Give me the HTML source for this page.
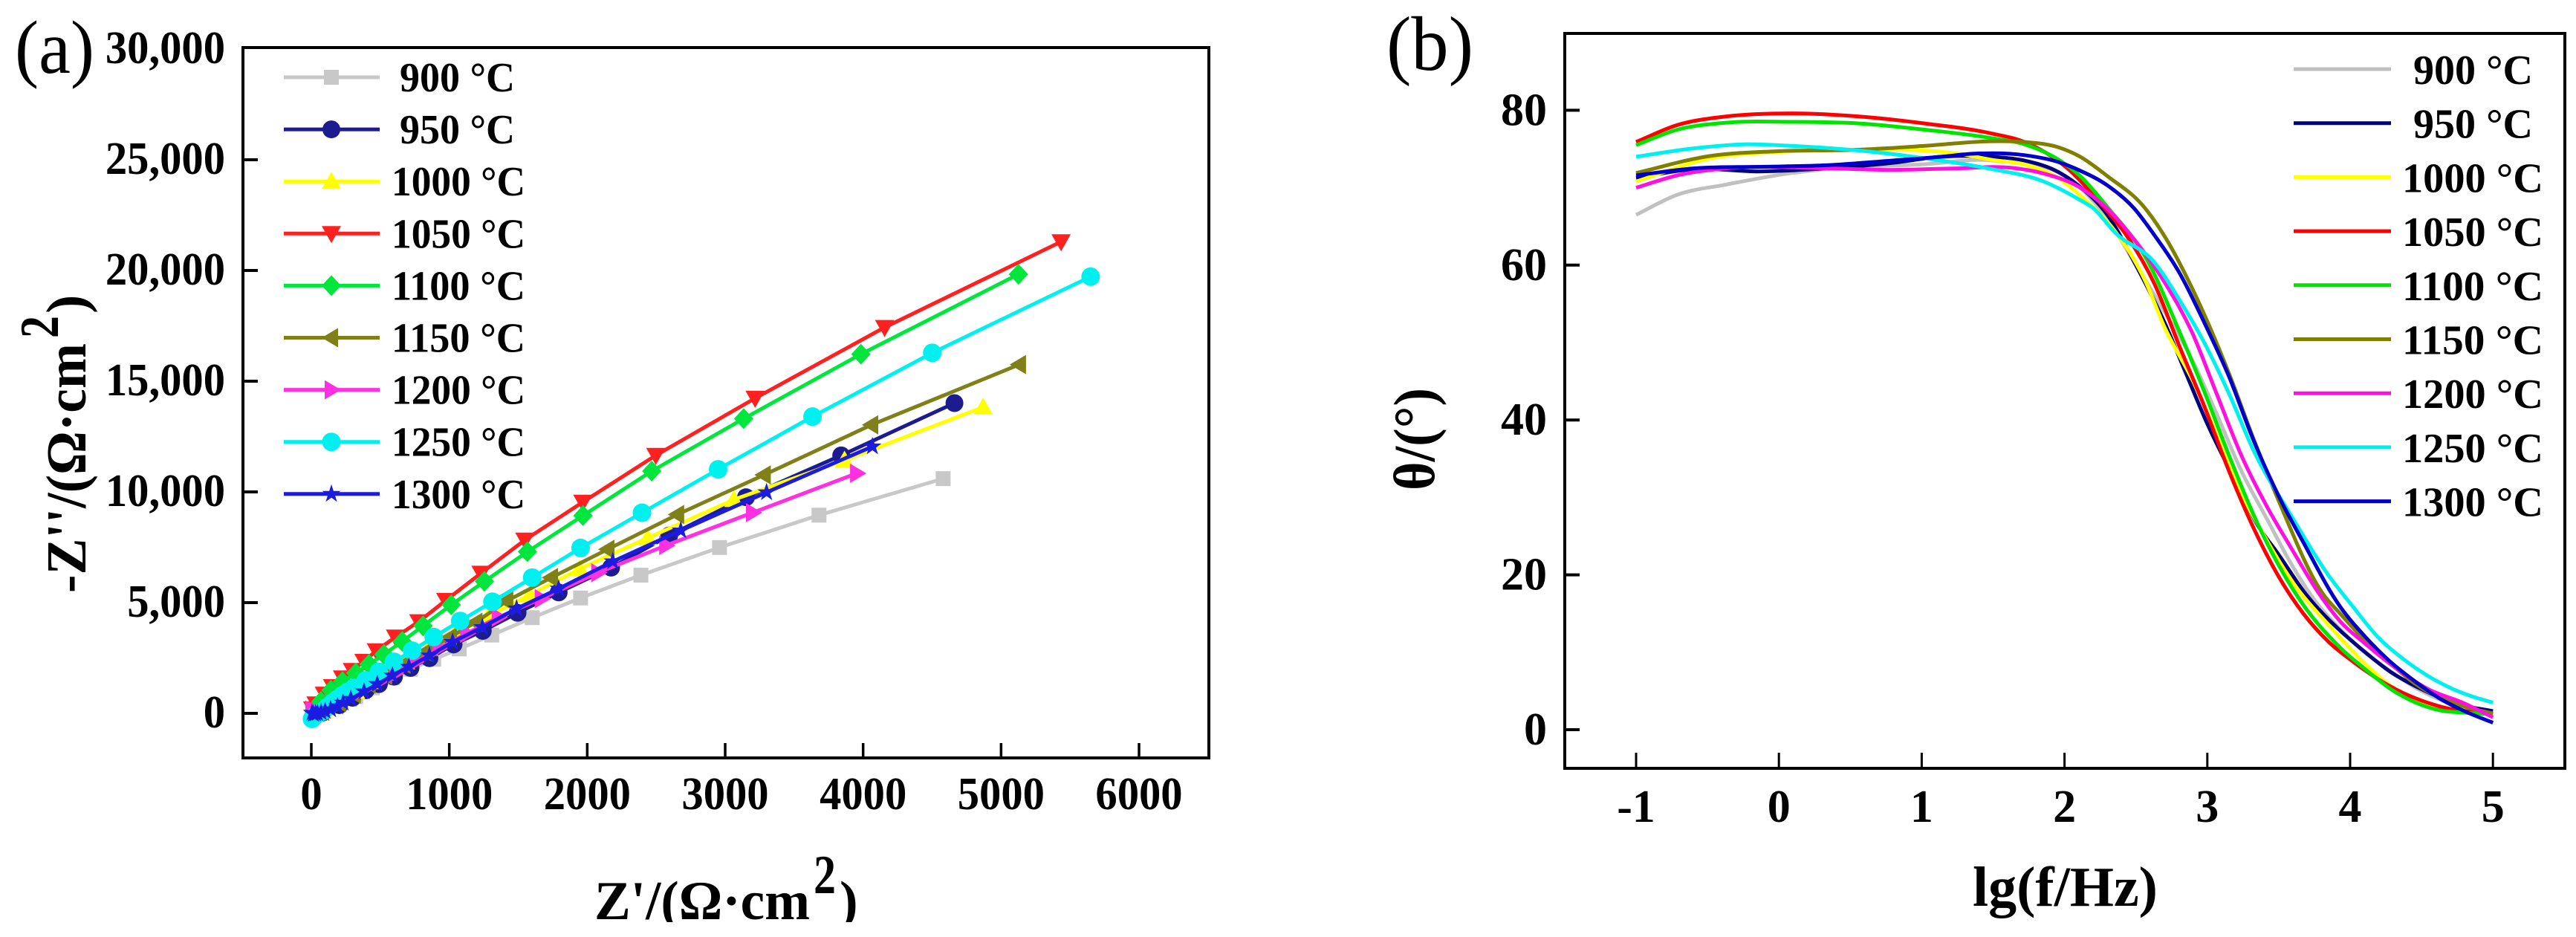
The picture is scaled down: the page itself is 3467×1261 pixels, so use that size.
<!DOCTYPE html>
<html lang="en">
<head>
<meta charset="utf-8">
<title>Nyquist and Bode plots</title>
<style>
html,body{margin:0;padding:0;background:#fff;width:3467px;height:1261px;overflow:hidden}
svg{display:block}
text{font-family:"Liberation Serif","DejaVu Serif",serif;fill:#000}
.b{font-weight:700}
</style>
</head>
<body>
<svg id="fig" xmlns="http://www.w3.org/2000/svg" width="3467" height="1261" viewBox="0 0 3467 1261">
  <rect width="3467" height="1261" fill="#fff"/>
  <g id="panelA"></g>
  <g id="panelB"></g>
  <text x="20" y="98" font-size="102" textLength="107" lengthAdjust="spacingAndGlyphs">(a)</text>
  <text x="1866" y="94" font-size="104" textLength="117" lengthAdjust="spacingAndGlyphs">(b)</text>
  <text class="b" x="800" y="1237" font-size="74" textLength="290" lengthAdjust="spacingAndGlyphs">Z'/(Ω·cm</text>
  <text class="b" x="1095" y="1202" font-size="74" textLength="30" lengthAdjust="spacingAndGlyphs">2</text>
  <text class="b" x="1130" y="1237" font-size="74">)</text>
  <rect x="780" y="1241" width="400" height="20" fill="#fff"/>
  <g transform="translate(115,798) rotate(-90)">
    <text class="b" x="0" y="0" font-size="76" textLength="336" lengthAdjust="spacingAndGlyphs">-Z''/(Ω·cm</text>
    <text class="b" x="343" y="-37" font-size="74" textLength="30" lengthAdjust="spacingAndGlyphs">2</text>
    <text class="b" x="376" y="0" font-size="76">)</text>
  </g>
  <text class="b" x="2655" y="1219" font-size="76" textLength="249" lengthAdjust="spacingAndGlyphs">lg(f/Hz)</text>
  <g transform="translate(1930,660) rotate(-90)">
    <text class="b" x="0" y="0" font-size="78" textLength="138" lengthAdjust="spacingAndGlyphs">θ/(°)</text>
  </g>
</svg>
<script>
// ---------- shared categories ----------
const temperatureLabels = ['900 °C','950 °C','1000 °C','1050 °C','1100 °C','1150 °C','1200 °C','1250 °C','1300 °C'];

// ---------- panel (a) tick values and labels ----------
const nyquistXTicks = [0,1000,2000,3000,4000,5000,6000];
const nyquistYTicks = [0,5000,10000,15000,20000,25000,30000];
const nyquistYTickLabels = ['0','5,000','10,000','15,000','20,000','25,000','30,000'];

// ---------- panel (a) series values ----------
const zReal900 = [4580,3680,2959,2389,1952,1601,1308,1072,887,719,587,442,322,202,82,20];
const zImag900 = [10600,8950,7490,6240,5210,4320,3535,2910,2440,1990,1600,1150,760,425,90,0];
const zReal950 = [4662,3841,3151,2594,2173,1793,1495,1243,1031,856,719,599,490,394,298,202,82,20];
const zImag950 = [14010,11650,9760,8030,6580,5460,4540,3725,3110,2490,2050,1655,1320,1040,705,370,35,0];
const zReal1000 = [4870,3865,3063,2438,1945,1584,1284,1043,851,683,550,430,322,202,82,20];
const zImag1000 = [13830,11430,9650,7920,6520,5350,4400,3610,2940,2330,1820,1430,985,537,90,20];
const zReal1050 = [5435,4156,3217,2497,1968,1548,1230,975,779,610,471,382,298,226,154,94,34,10];
const zImag1050 = [21300,17430,14230,11650,9540,7830,6330,5100,4140,3445,2830,2350,1935,1600,1208,870,425,200];
const zReal1100 = [5126,3984,3134,2468,1969,1567,1255,1014,810,659,526,418,322,226,142,70,20];
const zImag1100 = [19830,16220,13310,10940,8930,7300,5960,4900,3950,3245,2660,2215,1820,1430,1040,537,145];
const zReal1150 = [5132,4061,3282,2654,2149,1740,1416,1192,1007,827,671,538,418,310,202,82,20];
const zImag1150 = [15750,13030,10770,8980,7410,6130,5070,4115,3445,2770,2215,1710,1320,870,480,90,20];
const zReal1200 = [3954,3199,2570,2077,1668,1356,1127,923,755,611,490,370,262,154,34,5];
const zImag1200 = [10840,9065,7580,6350,5180,4340,3610,2940,2330,1820,1430,1040,705,370,90,150];
const zReal1250 = [5649,4501,3633,2949,2397,1952,1601,1313,1079,887,731,599,490,394,310,265,226,190,154,118,82,50,25,5];
const zImag1250 = [19720,16280,13400,11020,9060,7470,6130,5040,4170,3445,2830,2330,1880,1490,1150,975,816,650,480,290,90,0,-120,-250];
const zReal1300 = [4067,3300,2678,2185,1793,1488,1240,1024,856,707,587,478,382,286,230,190,140,100,70,45,30,15,5];
const zImag1300 = [12050,9980,8255,6860,5630,4730,3890,3220,2605,2100,1710,1320,985,650,480,313,180,100,50,10,-10,-30,20];

// ---------- panel (b) tick values ----------
const phaseXTicks = [-1,0,1,2,3,4,5];
const phaseYTicks = [0,20,40,60,80];

// ---------- panel (b) series values ----------
const lgF900 = [-1,-.71,-.37,.09,.33,1,1.5,2.11,2.3,2.5,2.7,2.874,3.065,3.239,3.412,3.585,3.76,3.93,4.1,4.28,4.45,4.8,5];
const theta900 = [66.5,69.1,70.4,71.9,72.4,73,73.5,70,66,60,54,48.5,40.8,33.4,27.4,21.5,16.5,13,10,7.6,5.5,2.8,2];
const lgF950 = [-1,-.59,-.14,.33,.79,1.14,1.49,1.72,1.96,2.11,2.3,2.5,2.7,2.84,3,3.2,3.35,3.5,3.69,3.93,4.106,4.28,4.45,4.8,5];
const theta950 = [71.3,72.4,72.1,72.5,73.2,74,74,73.5,72,70.1,66.5,60,52.6,46.5,39.5,32,26.5,22.6,17.5,12.8,10,7.5,5.7,3.1,2.4];
const lgF1000 = [-1,-.48,-.02,.56,1.02,1.26,1.49,1.72,1.96,2.11,2.336,2.458,2.562,2.7,2.9,3,3.2,3.4,3.6,3.85,4.1,4.28,4.63,5];
const theta1000 = [70.8,73.8,74.6,74.9,74.8,74.4,73.6,73,71.2,69,64.8,61.6,58.1,52,45,41,32,25,19,13.5,8.6,5.7,2.9,2];
const lgF1050 = [-1,-.71,-.37,.09,.56,1.02,1.49,1.72,2.02,2.25,2.458,2.632,2.805,2.978,3.152,3.325,3.499,3.672,3.846,4.019,4.28,4.627,5];
const theta1050 = [75.9,78.1,79.2,79.6,79.2,78.3,77,75.9,72.5,68,63.2,57.5,49.5,41.8,33.4,26,19.8,15,11.4,8.8,5.6,3,2];
const lgF1100 = [-1,-.71,-.37,.09,.56,1.02,1.49,1.72,1.96,2.11,2.3,2.58,2.805,2.978,3.152,3.325,3.621,3.93,4.1,4.28,4.63,4.8,5];
const theta1100 = [75.5,77.5,78.4,78.5,78.3,77.5,76.4,75.6,73.6,71.5,67.5,60.6,51.4,43.7,35.4,27.7,17.5,10.6,7.9,5.3,2.5,2.2,2];
const lgF1150 = [-1,-.48,-.02,.56,1.02,1.49,1.72,1.96,2.11,2.3,2.562,2.718,2.891,3.152,3.325,3.499,3.811,3.93,4.106,4.28,4.45,4.8,5];
const theta1150 = [71.9,74.1,74.7,74.9,75.4,76,75.9,75.2,74,71.5,67.4,63.2,57.1,46,37.5,29.6,17.5,15,11.5,8.6,6,3,2.1];
const lgF1200 = [-1,-.71,-.37,.33,.79,1.26,1.61,1.84,2.11,2.293,2.458,2.7,2.891,3.065,3.239,3.412,3.586,3.785,3.93,4.106,4.28,4.54,4.8,5];
const theta1200 = [70,71.6,72.5,72.5,72.3,72.5,72.6,71.9,70,67.4,64,57.8,51.4,43.4,35.4,29,23.5,17.5,14,11.1,8.5,5.3,3.4,1.6];
const lgF1250 = [-1,-.59,-.25,.09,.56,1.02,1.49,1.84,2.11,2.198,2.354,2.632,2.805,2.978,3.152,3.325,3.586,3.846,4.019,4.193,4.367,4.54,4.714,4.887,5];
const theta1250 = [74,75.1,75.6,75.4,74.8,73.8,72.4,70.9,68.4,67.4,64.2,60.3,55.5,50,43.4,36,27.7,20,15.9,12,9.2,7,5.3,4.1,3.5];
const lgF1300 = [-1,-.59,-.14,.33,.79,1.14,1.37,1.72,1.96,2.11,2.3,2.484,2.632,2.805,2.978,3.152,3.325,3.499,3.672,3.93,4.106,4.28,4.45,4.63,4.8,5];
const theta1300 = [71.6,72.5,72.7,72.9,73.5,74,74.4,74.2,73.3,72.2,70.3,67.4,63.8,59,52.6,45.6,37.3,30.2,24.2,15.9,12,8.8,6.3,4,2.4,.9];

const nyquistSeries = [
  [zReal900,zImag900],[zReal950,zImag950],[zReal1000,zImag1000],[zReal1050,zImag1050],[zReal1100,zImag1100],
  [zReal1150,zImag1150],[zReal1200,zImag1200],[zReal1250,zImag1250],[zReal1300,zImag1300]
];
const phaseSeries = [
  [lgF900,theta900],[lgF950,theta950],[lgF1000,theta1000],[lgF1050,theta1050],[lgF1100,theta1100],
  [lgF1150,theta1150],[lgF1200,theta1200],[lgF1250,theta1250],[lgF1300,theta1300]
];

// ---------- styling ----------
const coloursA = ['#c8c8c8','#1c1c90','#ffff00','#ff2020','#00e63c','#808018','#ff30e0','#00f0f0','#1c1ce0'];
const coloursB = ['#c0c0c0','#000080','#ffff00','#ff0000','#00e400','#808000','#ff10e0','#00f0f0','#0000c8'];
const markerKinds = ['square','circle','up','down','diamond','left','right','hex','star'];

// ---------- axis functions ----------
const xA = v => 419 + v * 0.18567;
const yA = v => 960 - v * 0.0298;
const xB = v => 2202 + (v + 1) * 192.2;
const yB = v => 982 - v * 10.42;

const NS = 'http://www.w3.org/2000/svg';
function make(tag, parent, attrs){
  const el = document.createElementNS(NS, tag);
  for (const k in attrs) el.setAttribute(k, attrs[k]);
  parent.appendChild(el);
  return el;
}

function markerShape(kind, parent, cx, cy, fill, name){
  let el;
  const s = (list) => list.map(p => (cx + p[0]).toFixed(1) + ',' + (cy + p[1]).toFixed(1)).join(' ');
  if (kind === 'square') {
    el = make('rect', parent, {x:cx-10, y:cy-10, width:20, height:20, fill});
  } else if (kind === 'circle') {
    el = make('circle', parent, {cx, cy, r:12, fill});
  } else if (kind === 'hex') {
    el = make('circle', parent, {cx, cy, r:12.5, fill});
  } else if (kind === 'up') {
    el = make('polygon', parent, {points:s([[0,-13],[13,10],[-13,10]]), fill});
  } else if (kind === 'down') {
    el = make('polygon', parent, {points:s([[-13,-10],[13,-10],[0,13]]), fill});
  } else if (kind === 'left') {
    el = make('polygon', parent, {points:s([[-13,0],[9,-13],[9,13]]), fill});
  } else if (kind === 'right') {
    el = make('polygon', parent, {points:s([[13,0],[-9,-13],[-9,13]]), fill});
  } else if (kind === 'diamond') {
    el = make('polygon', parent, {points:s([[0,-14],[13,0],[0,14],[-13,0]]), fill});
  } else {
    const pts = [];
    for (let i = 0; i < 10; i++) {
      const r = i % 2 ? 5 : 13;
      const a = -Math.PI / 2 + i * Math.PI / 5;
      pts.push([r * Math.cos(a), r * Math.sin(a)]);
    }
    el = make('polygon', parent, {points:s(pts), fill});
  }
  
  
  return el;
}

function hermitePath(xs, ys){
  const n = xs.length;
  const m = [];
  for (let i = 0; i < n; i++) {
    if (i === 0) { m.push((ys[1] - ys[0]) / (xs[1] - xs[0])); continue; }
    if (i === n - 1) { m.push((ys[n - 1] - ys[n - 2]) / (xs[n - 1] - xs[n - 2])); continue; }
    const h0 = xs[i] - xs[i - 1], h1 = xs[i + 1] - xs[i];
    const d0 = (ys[i] - ys[i - 1]) / h0, d1 = (ys[i + 1] - ys[i]) / h1;
    m.push((d0 * h1 + d1 * h0) / (h0 + h1));
  }
  let d = 'M' + xs[0].toFixed(1) + ' ' + ys[0].toFixed(1);
  for (let i = 0; i < n - 1; i++) {
    const h = (xs[i + 1] - xs[i]) / 3;
    d += 'C' + (xs[i] + h).toFixed(1) + ' ' + (ys[i] + m[i] * h).toFixed(1) + ' '
       + (xs[i + 1] - h).toFixed(1) + ' ' + (ys[i + 1] - m[i + 1] * h).toFixed(1) + ' '
       + xs[i + 1].toFixed(1) + ' ' + ys[i + 1].toFixed(1);
  }
  return d;
}

function tickLabel(parent, x, y, anchor, str, name, squeeze){
  let em = 0;
  for (const c of str) em += c === ',' ? 0.25 : c === '-' ? 0.333 : 0.5;
  const t = make('text', parent, {x, y, 'text-anchor':anchor, 'font-size':62, class:'b', textLength:(em * 62 * squeeze).toFixed(1), lengthAdjust:'spacingAndGlyphs'});
  t.textContent = str;
  
  
}

function tickLine(parent, x1, y1, x2, y2, w, name){
  const l = make('line', parent, {x1, y1, x2, y2, stroke:'#000', 'stroke-width':w});
  
  
}

function legendText(parent, x, y, str, w){
  const t = make('text', parent, {x, y, 'font-size':56, class:'b', textLength:w, lengthAdjust:'spacingAndGlyphs'});
  t.textContent = str;
  
  
}

// ---------- panel (a) ----------
const gA = document.getElementById('panelA');
const frameA = make('rect', gA, {x:327, y:64, width:1300, height:956, fill:'none', stroke:'#000', 'stroke-width':4});



nyquistXTicks.forEach(v => {
  tickLine(gA, xA(v), 1020, xA(v), 1000, 3.5, 'x-tick-a');
  tickLabel(gA, xA(v), 1089, 'middle', String(v), 'x-tick-label-a', 0.945);
});
nyquistYTicks.forEach((v, i) => {
  if (i < nyquistYTicks.length - 1) tickLine(gA, 327, yA(v), 347, yA(v), 4, 'y-tick-a');
  tickLabel(gA, 303, yA(v) + 19, 'end', nyquistYTickLabels[i], 'y-tick-label-a', 0.945);
});

nyquistSeries.forEach((s, i) => {
  const g = make('g', gA, {});
  
  
  const pts = s[0].map((v, k) => xA(v).toFixed(1) + ',' + yA(s[1][k]).toFixed(1)).join(' ');
  const line = make('polyline', g, {points:pts, fill:'none', stroke:coloursA[i], 'stroke-width':5, 'stroke-linejoin':'round'});
  
  
  s[0].forEach((v, k) => markerShape(markerKinds[i], g, xA(v), yA(s[1][k]), coloursA[i], 'nyquist-point'));
});

temperatureLabels.forEach((lab, i) => {
  const cy = 104 + i * 70.1;
  const g = make('g', gA, {});
  
  
  const l = make('line', g, {x1:382, x2:511, y1:cy, y2:cy, stroke:coloursA[i], 'stroke-width':5});
  
  
  markerShape(markerKinds[i], g, 446, cy, coloursA[i], 'legend-marker');
  const short = lab.length < 7;
  legendText(g, short ? 538 : 527, cy + 19, lab, short ? 155 : 180);
});

// ---------- panel (b) ----------
const gB = document.getElementById('panelB');
const frameB = make('rect', gB, {x:2106, y:45, width:1346, height:989, fill:'none', stroke:'#000', 'stroke-width':4});



phaseXTicks.forEach(v => {
  tickLine(gB, xB(v), 1034, xB(v), 1013, 3, 'x-tick-b');
  tickLabel(gB, xB(v), 1106, 'middle', String(v), 'x-tick-label-b', 1);
});
phaseYTicks.forEach(v => {
  tickLine(gB, 2106, yB(v), 2126, yB(v), 4, 'y-tick-b');
  tickLabel(gB, 2082, yB(v) + 20, 'end', String(v), 'y-tick-label-b', 1);
});

phaseSeries.forEach((s, i) => {
  const path = make('path', gB, {d:hermitePath(s[0].map(xB), s[1].map(yB)), fill:'none', stroke:coloursB[i], 'stroke-width':5, 'stroke-linejoin':'round'});
  
  
});

temperatureLabels.forEach((lab, i) => {
  const cy = 93 + i * 72.7;
  const g = make('g', gB, {});
  
  
  const l = make('line', g, {x1:3087, x2:3218, y1:cy, y2:cy, stroke:coloursB[i], 'stroke-width':5});
  
  
  const short = lab.length < 7;
  legendText(g, short ? 3248 : 3233, cy + 20, lab, short ? 161 : 190);
});
</script>
</body>
</html>
